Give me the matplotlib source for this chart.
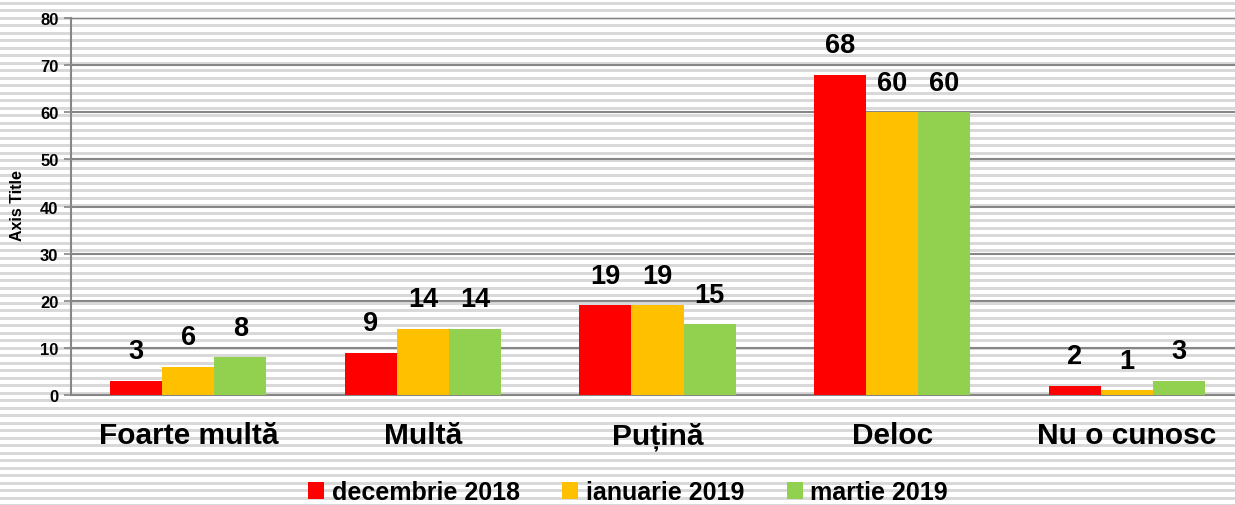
import matplotlib
matplotlib.use("Agg")
import matplotlib.pyplot as plt
import numpy as np

categories = ["Foarte multă", "Multă", "Puțină", "Deloc", "Nu o cunosc"]
series_names = ["decembrie 2018", "ianuarie 2019", "martie 2019"]
dec_2018 = [3, 9, 19, 68, 2]
ian_2019 = [6, 14, 19, 60, 1]
mar_2019 = [8, 14, 15, 60, 3]
y_ticks = [0, 10, 20, 30, 40, 50, 60, 70, 80]

colors = ["#FF0000", "#FFC000", "#92D050"]
grid_col = "#868686"

plt.rcParams["font.family"] = ["Liberation Sans", "DejaVu Sans"]
plt.rcParams["font.weight"] = "bold"

W, H = 1235, 506
fig = plt.figure(figsize=(W / 100, H / 100), dpi=100)

# fundal cu dungi orizontale
bg = fig.add_axes([0, 0, 1, 1], zorder=-10)
bg.set_xlim(0, W)
bg.set_ylim(H, 0)
bg.axis("off")
for y0 in np.arange(2.5, H, 7.5):
    bg.axhspan(y0, y0 + 3, color="#d9d9d9", lw=0)

ax = fig.add_axes([71 / W, (H - 396) / H, (1244 - 71) / W, 377 / H])
ax.set_facecolor("none")

x = np.arange(len(categories))
w = 0.222
for i, (vals, col, name) in enumerate(zip([dec_2018, ian_2019, mar_2019], colors, series_names)):
    bars = ax.bar(x + (i - 1) * w, vals, w, color=col, label=name, zorder=3)
    for b, v in zip(bars, vals):
        ax.annotate(f"{v}", (b.get_x() + b.get_width() / 2, b.get_height()),
                    xytext=(0, 12), textcoords="offset points",
                    ha="center", va="bottom", fontsize=19.5, fontweight="bold")

ax.set_xlim(-0.5, len(categories) - 0.5)
ax.set_ylim(0, 80)
ax.set_yticks(y_ticks)
ax.set_xticks(x)
ax.set_xticklabels(categories, fontsize=21.5, fontweight="bold")
ax.tick_params(axis="x", length=0, pad=19)
ax.tick_params(axis="y", length=5, width=1.2, color=grid_col, labelsize=12, pad=4)
ax.yaxis.grid(True, color=grid_col, lw=1.5, zorder=0)
ax.set_axisbelow(True)
for s in ["top", "right"]:
    ax.spines[s].set_visible(False)
for s in ["left", "bottom"]:
    ax.spines[s].set_color(grid_col)
    ax.spines[s].set_linewidth(1.5)

fig.text(18 / W, 1 - 206 / H, "Axis Title", rotation=90, ha="center", va="center",
         fontsize=11.5, fontweight="bold")

fig.legend(loc="center", bbox_to_anchor=(628 / W, 1 - 493 / H), ncol=3, frameon=False,
           prop={"size": 18, "weight": "bold"}, handlelength=0.65, handleheight=0.65,
           handletextpad=0.3, columnspacing=1.7)

fig.savefig("out.png", dpi=100)
